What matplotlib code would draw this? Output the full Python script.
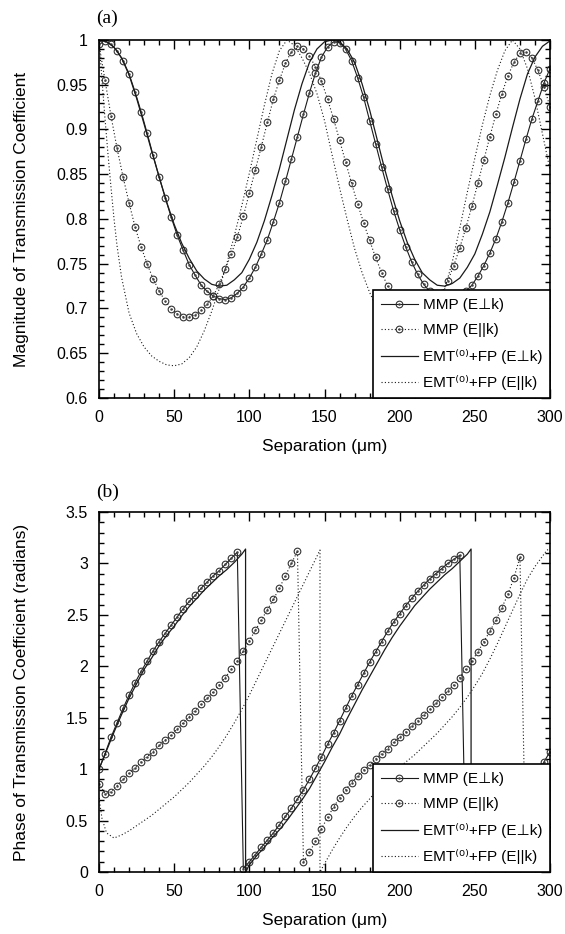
import matplotlib
matplotlib.use("Agg")
import matplotlib.pyplot as plt
import numpy as np
from matplotlib.ticker import MultipleLocator, FormatStrFormatter
from matplotlib.lines import Line2D

plt.rcParams['font.family'] = ['Liberation Sans', 'DejaVu Sans']

# ---- panel (a): magnitude ----
x_mmp = np.arange(0, 301, 4)
mmp_perp_mag = [1.000, 0.999, 0.995, 0.988, 0.977, 0.962, 0.942, 0.920, 0.896, 0.871,
                0.847, 0.824, 0.802, 0.782, 0.765, 0.749, 0.737, 0.726, 0.719, 0.714,
                0.711, 0.710, 0.712, 0.717, 0.724, 0.734, 0.746, 0.761, 0.777, 0.797,
                0.818, 0.842, 0.867, 0.892, 0.917, 0.941, 0.963, 0.981, 0.992, 0.998,
                0.997, 0.990, 0.977, 0.958, 0.936, 0.910, 0.884, 0.858, 0.833, 0.809,
                0.788, 0.769, 0.752, 0.738, 0.727, 0.719, 0.714, 0.711, 0.710, 0.711,
                0.714, 0.719, 0.726, 0.736, 0.748, 0.762, 0.778, 0.797, 0.818, 0.841,
                0.865, 0.889, 0.912, 0.932, 0.952, 0.968]
mmp_par_mag = [0.995, 0.955, 0.915, 0.879, 0.847, 0.818, 0.791, 0.769, 0.750, 0.733,
               0.720, 0.708, 0.700, 0.694, 0.691, 0.691, 0.693, 0.698, 0.705, 0.714,
               0.727, 0.744, 0.761, 0.780, 0.803, 0.829, 0.855, 0.881, 0.908, 0.934,
               0.955, 0.974, 0.987, 0.993, 0.990, 0.982, 0.970, 0.954, 0.934, 0.912,
               0.888, 0.864, 0.840, 0.817, 0.796, 0.776, 0.757, 0.740, 0.725, 0.713,
               0.703, 0.696, 0.692, 0.691, 0.693, 0.698, 0.706, 0.717, 0.731, 0.748,
               0.768, 0.790, 0.814, 0.840, 0.866, 0.892, 0.917, 0.940, 0.960, 0.975,
               0.985, 0.987, 0.980, 0.966, 0.948, 0.925]

x_emt = np.arange(0, 301, 5)
emt_perp_mag = [1.000, 0.998, 0.992, 0.980, 0.961, 0.935, 0.906, 0.876, 0.847, 0.819,
                0.794, 0.773, 0.756, 0.742, 0.733, 0.727, 0.725, 0.726, 0.732, 0.740,
                0.755, 0.774, 0.798, 0.826, 0.856, 0.889, 0.922, 0.951, 0.975, 0.990,
                0.998, 1.000, 0.998, 0.990, 0.975, 0.951, 0.922, 0.889, 0.856, 0.826,
                0.798, 0.774, 0.755, 0.740, 0.732, 0.726, 0.725, 0.728, 0.734, 0.746,
                0.761, 0.783, 0.808, 0.838, 0.869, 0.902, 0.934, 0.962, 0.981, 0.993,
                0.999]
x_emt_par_mag = [0, 2, 4, 6, 8, 10, 12] + list(range(15, 301, 5))
emt_par_mag = [1.000, 0.955, 0.912, 0.872, 0.835, 0.800, 0.770, 0.735, 0.695, 0.672,
               0.657, 0.647, 0.641, 0.637, 0.636, 0.638, 0.645, 0.657, 0.675, 0.697,
               0.722, 0.750, 0.781, 0.815, 0.851, 0.889, 0.927, 0.962, 0.988, 1.000,
               0.994, 0.980, 0.963, 0.940, 0.910, 0.872, 0.835, 0.800, 0.767, 0.740,
               0.718, 0.700, 0.684, 0.669, 0.654, 0.643, 0.637, 0.640, 0.660, 0.690,
               0.722, 0.752, 0.790, 0.830, 0.868, 0.905, 0.938, 0.966, 0.988, 1.000,
               0.990, 0.968, 0.935, 0.895, 0.855]

# ---- panel (b): phase ----
mmp_perp_ph = [1.00, 1.15, 1.31, 1.45, 1.59, 1.72, 1.84, 1.95, 2.05, 2.15,
               2.24, 2.32, 2.40, 2.48, 2.56, 2.63, 2.69, 2.76, 2.82, 2.88,
               2.93, 2.99, 3.05, 3.11, 0.03, 0.10, 0.17, 0.24, 0.31, 0.38,
               0.46, 0.54, 0.62, 0.71, 0.80, 0.90, 1.01, 1.12, 1.24, 1.35,
               1.47, 1.59, 1.71, 1.82, 1.93, 2.04, 2.14, 2.24, 2.34, 2.43,
               2.51, 2.59, 2.66, 2.73, 2.79, 2.85, 2.90, 2.95, 3.00, 3.04,
               3.08, 0.03, 0.10, 0.17, 0.24, 0.31, 0.38, 0.45, 0.53, 0.61,
               0.70, 0.79, 0.88, 0.97, 1.07, 1.17]
mmp_par_ph = [0.86, 0.76, 0.78, 0.84, 0.90, 0.96, 1.01, 1.07, 1.12, 1.17,
              1.23, 1.28, 1.33, 1.39, 1.45, 1.51, 1.57, 1.63, 1.69, 1.75,
              1.82, 1.89, 1.97, 2.05, 2.15, 2.25, 2.35, 2.45, 2.55, 2.65,
              2.76, 2.88, 3.00, 3.12, 0.10, 0.19, 0.30, 0.42, 0.53, 0.63,
              0.72, 0.80, 0.87, 0.93, 0.99, 1.04, 1.10, 1.15, 1.20, 1.26,
              1.31, 1.36, 1.42, 1.47, 1.53, 1.58, 1.64, 1.70, 1.76, 1.82,
              1.89, 1.97, 2.05, 2.14, 2.24, 2.34, 2.45, 2.57, 2.70, 2.86,
              3.06, 0.05, 0.14, 0.24, 0.34, 0.44]

x_emt_perp_ph = (list(range(0, 96, 5)) + [97.5, 97.5] + list(range(100, 246, 5))
                 + [247.5, 247.5] + list(range(250, 301, 5)))
emt_perp_ph = [1.00, 1.18, 1.36, 1.53, 1.69, 1.83, 1.97, 2.08, 2.20, 2.30,
               2.39, 2.49, 2.58, 2.66, 2.74, 2.81, 2.88, 2.94, 3.01, 3.09,
               3.14, 0.00,
               0.07, 0.16, 0.24, 0.33, 0.41, 0.50, 0.60, 0.70, 0.81, 0.94,
               1.07, 1.21, 1.34, 1.49, 1.63, 1.77, 1.90, 2.03, 2.16, 2.28,
               2.39, 2.49, 2.59, 2.67, 2.75, 2.82, 2.89, 2.95, 3.02, 3.09,
               3.14, 0.00,
               0.05, 0.14, 0.23, 0.31, 0.40, 0.49, 0.59, 0.69, 0.80, 0.92,
               1.05]

x_emt_par_ph = ([0, 2] + list(range(5, 146, 5)) + [147, 147] + list(range(150, 296, 5))
                + [298, 300])
emt_par_ph = [0.72, 0.52, 0.38, 0.33, 0.36, 0.40, 0.45, 0.50, 0.55, 0.61,
              0.67, 0.73, 0.80, 0.87, 0.95, 1.03, 1.12, 1.22, 1.33, 1.45,
              1.58, 1.72, 1.87, 2.02, 2.17, 2.32, 2.47, 2.62, 2.77, 2.92,
              3.07, 3.13, 0.00,
              0.08, 0.21, 0.33, 0.44, 0.54, 0.63, 0.71, 0.80, 0.88, 0.95,
              1.02, 1.08, 1.14, 1.21, 1.28, 1.35, 1.43, 1.51, 1.60, 1.70,
              1.81, 1.93, 2.07, 2.22, 2.38, 2.54, 2.70, 2.85, 2.97, 3.07,
              3.13, 3.14]

labels = ['MMP (E\u22a5k)', 'MMP (E||k)',
          'EMT\u207d\u2070\u207e+FP (E\u22a5k)', 'EMT\u207d\u2070\u207e+FP (E||k)']

ink = '#1a1a1a'
dots = (0, (1, 2))
mk = dict(marker='o', markersize=4.8, markerfacecolor='none',
          markeredgewidth=0.8, markeredgecolor='#333333')
dot = dict(ls='none', marker='.', markersize=1.6, color='#444444')

fig = plt.figure(figsize=(5.65, 9.34), dpi=100)
ax1 = fig.add_axes([99 / 565, 1 - 398 / 934, 451 / 565, 358 / 934])
ax2 = fig.add_axes([99 / 565, 1 - 872 / 934, 451 / 565, 360 / 934])

ax1.plot(x_mmp, mmp_perp_mag, color=ink, lw=0.8, **mk)
ax1.plot(x_mmp, mmp_perp_mag, **dot)
ax1.plot(x_mmp, mmp_par_mag, color=ink, lw=0.8, ls=dots, **mk)
ax1.plot(x_mmp, mmp_par_mag, **dot)
ax1.plot(x_emt, emt_perp_mag, color=ink, lw=0.9)
ax1.plot(x_emt_par_mag, emt_par_mag, color=ink, lw=0.8, ls=dots)

ax2.plot(x_mmp, mmp_perp_ph, color=ink, lw=0.8, **mk)
ax2.plot(x_mmp, mmp_perp_ph, **dot)
ax2.plot(x_mmp, mmp_par_ph, color=ink, lw=0.8, ls=dots, **mk)
ax2.plot(x_mmp, mmp_par_ph, **dot)
ax2.plot(x_emt_perp_ph, emt_perp_ph, color=ink, lw=0.9)
ax2.plot(x_emt_par_ph, emt_par_ph, color=ink, lw=0.8, ls=dots)

handles = [(Line2D([], [], color=ink, lw=0.8, **mk), Line2D([], [], **dot)),
           (Line2D([], [], color=ink, lw=0.8, ls=dots, **mk), Line2D([], [], **dot)),
           Line2D([], [], color=ink, lw=0.9),
           Line2D([], [], color=ink, lw=0.8, ls=dots)]

for ax, ylo, yhi, ymaj, ymin in [(ax1, 0.6, 1.0, 0.05, 0.01),
                                 (ax2, 0.0, 3.5, 0.5, 0.1)]:
    ax.set_xlim(0, 300)
    ax.set_ylim(ylo, yhi)
    ax.xaxis.set_major_locator(MultipleLocator(50))
    ax.xaxis.set_minor_locator(MultipleLocator(10))
    ax.yaxis.set_major_locator(MultipleLocator(ymaj))
    ax.yaxis.set_minor_locator(MultipleLocator(ymin))
    ax.yaxis.set_major_formatter(FormatStrFormatter('%g'))
    ax.tick_params(which='both', direction='in', top=True, right=True,
                   width=1, labelsize=11.5, colors='black')
    ax.tick_params(which='major', length=6.5)
    ax.tick_params(which='minor', length=3.5)
    ax.tick_params(axis='x', which='major', pad=9)
    ax.tick_params(axis='y', which='major', pad=8)
    for s in ax.spines.values():
        s.set_linewidth(1.2)
    ax.set_xlabel('Separation (\u03bcm)', fontsize=12.5, labelpad=10)
    ax.yaxis.set_label_coords(-0.155, 0.5)
    leg = ax.legend(handles, labels, loc='lower right', fontsize=11,
                    frameon=True, fancybox=False, framealpha=1,
                    edgecolor='black', borderaxespad=0, numpoints=1,
                    handlelength=2.4, handletextpad=0.35, labelspacing=0.75,
                    borderpad=0.5)
    leg.get_frame().set_linewidth(1.2)

ax1.set_ylabel('Magnitude of Transmission Coefficient', fontsize=12.5)
ax2.set_ylabel('Phase of Transmission Coefficient (radians)', fontsize=12.5)

fig.text(96 / 565, 1 - 18 / 934, '(a)', family='Liberation Serif', fontsize=14,
         va='center', ha='left')
fig.text(96 / 565, 1 - 492 / 934, '(b)', family='Liberation Serif', fontsize=14,
         va='center', ha='left')

fig.savefig('out.png', dpi=100)
